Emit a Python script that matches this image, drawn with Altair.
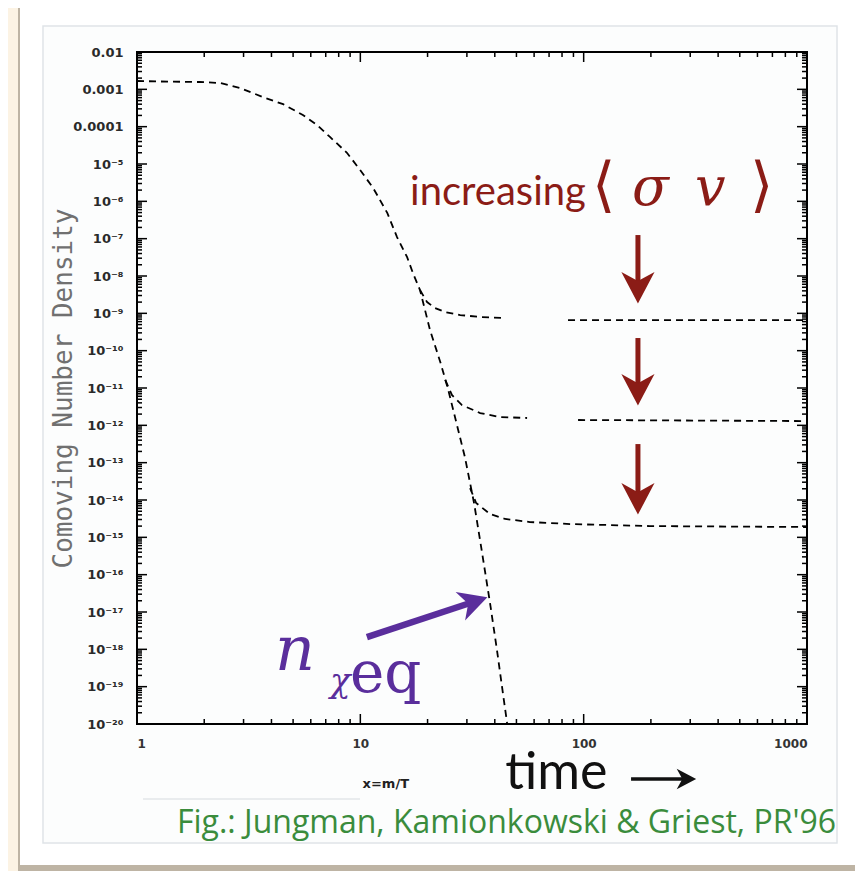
import altair as alt
import pandas as pd

# ---------------- data ----------------
# equilibrium curve  (x = m/T, comoving number density)
eq_x = [1.0, 1.27, 1.91, 2.36, 2.89, 3.66, 4.51, 5.53, 6.40, 7.31, 8.71, 9.98, 11.4, 13.2, 14.6,
        16.2, 17.2, 18.5, 19.5, 20.5, 22.8, 24.7, 26.9, 29.4, 32.3, 35.1, 38.1, 40.9, 43.6, 45.4]
eq_y = [1.67e-3, 1.62e-3, 1.57e-3, 1.48e-3, 1.09e-3, 6.2e-4, 4.0e-4, 2.05e-4, 1.11e-4, 5.3e-5,
        2.0e-5, 6.9e-6, 2.3e-6, 4.9e-7, 1.1e-7, 3.2e-8, 1.2e-8, 4.2e-9, 1.2e-9, 3.6e-10,
        5.0e-11, 9.4e-12, 1.2e-12, 1.4e-13, 8.3e-15, 3.8e-16, 1.7e-17, 9.6e-19, 6.0e-20, 1.06e-20]

# freeze-out curves (piece = visible stretch of the dashed line)
fo1_x = [18.5, 19.9, 21.6, 24.0, 28.0, 34.4, 43.6, 85.1, 1000]
fo1_y = [4.2e-9, 2.0e-9, 1.39e-9, 1.08e-9, 9.0e-10, 8.0e-10, 7.5e-10, 6.6e-10, 6.6e-10]
fo1_piece = ["a", "a", "a", "a", "a", "a", "a", "b", "b"]

fo2_x = [24.0, 25.7, 28.5, 34.4, 42.2, 55.8, 94.4, 1000]
fo2_y = [1.64e-11, 6.5e-12, 3.5e-12, 2.13e-12, 1.67e-12, 1.57e-12, 1.39e-12, 1.30e-12]
fo2_piece = ["a", "a", "a", "a", "a", "a", "b", "b"]

fo3_x = [31.0, 33.0, 38.1, 44.5, 57.5, 86.9, 198, 1000]
fo3_y = [2.09e-14, 8.3e-15, 4.2e-15, 3.1e-15, 2.57e-15, 2.27e-15, 2.0e-15, 1.89e-15]
fo3_piece = ["a"] * 8

# axis ticks
x_major = [1, 10, 100, 1000]
x_minor = [m * 10 ** k for k in range(0, 3) for m in range(2, 10)]
y_major = [10.0 ** (-k) for k in range(2, 21)]
y_minor = [m * 10.0 ** (-k) for k in range(3, 21) for m in range(2, 10)]
sup = str.maketrans("0123456789-", "⁰¹²³⁴⁵⁶⁷⁸⁹⁻")
y_labels = ["0.01", "0.001", "0.0001"] + ["10" + ("-" + str(k)).translate(sup) for k in range(5, 21)]

# annotations (data coordinates)
inc_text, inc_x, inc_y = ["increasing"], [16.7], [8.0e-7]
bracket_text = ["⟨", "⟩"]
bracket_x = [109.0, 556.0]
bracket_y = [8.0e-7, 8.0e-7]
sv_text = ["σ", "𝑣"]
sv_x = [164.7, 315.0]
sv_y = [8.0e-7, 8.0e-7]
red_arrow_x = [175, 175, 175]
red_arrow_top = [1.25e-7, 2.18e-10, 3.15e-13]
red_arrow_head = [5.1e-9, 9.4e-12, 1.13e-14]

purple_tail = [10.7, 2.13e-18]
purple_head = [32.0, 1.85e-17]
n_text, n_x, n_y = ["n"], [4.15], [2.8e-19]
chi_text, chi_x, chi_y = ["χ"], [7.32], [7.2e-20]
eqlab_text, eqlab_x, eqlab_y = ["eq"], [8.99], [7.2e-20]

xlab_text, xlab_x, xlab_y = ["x=m/T"], [13.0], [1.9e-22]
time_text, time_x, time_y = ["time"], [44.5], [1.8e-22]
time_arrow_x = [163, 287]
time_arrow_y = [3.35e-22]
cap_text, cap_x, cap_y = ["Fig.: Jungman, Kamionkowski & Griest, PR'96"], [1.51], [1.2e-23]

# ---------------- layout ----------------
W, H = 670, 672
xscale = alt.Scale(type="log", domain=[1, 1000], nice=False)
yscale = alt.Scale(type="log", domain=[1e-20, 1e-2], nice=False)
label_expr = "[" + ",".join("'%s'" % s for s in y_labels) + "][round(-log(datum.value)/LN10) - 2]"
xaxis = alt.Axis(values=x_major, format="d", ticks=False, domain=False, grid=False, title=None,
                 labelPadding=14, labelFont="DejaVu Sans", labelFontSize=12, labelFontWeight="bold",
                 labelColor="#333", zindex=2)
yaxis = alt.Axis(values=y_major, labelExpr=label_expr, ticks=False, domain=False, grid=False,
                 labelPadding=14, labelFont="DejaVu Sans", labelFontSize=13, labelFontWeight="bold",
                 labelColor="#2a2a2a", title="Comoving Number Density", titleFont="DejaVu Sans Mono",
                 titleFontSize=26, titleFontWeight="normal", titleColor="#707070", titleX=-74, titleY=H / 2,
                 titleAngle=270, titleAlign="center", titleBaseline="middle", zindex=2)


def X(f):
    return alt.X(f, type="quantitative", scale=xscale, axis=xaxis)


def Y(f):
    return alt.Y(f, type="quantitative", scale=yscale, axis=yaxis)


one = pd.DataFrame({"a": [0]})

shadow = alt.Chart(one).mark_rect(color="#a99f8f", opacity=0.75).encode(
    x=alt.value(-119), x2=alt.value(722), y=alt.value(-47), y2=alt.value(828))
card = alt.Chart(one).mark_rect(color="white").encode(
    x=alt.value(-117), x2=alt.value(719), y=alt.value(-46), y2=alt.value(813))
panel = alt.Chart(one).mark_rect(fill="#fcfdfd", stroke="#dfe4e8", strokeWidth=1.5).encode(
    x=alt.value(-94), x2=alt.value(700), y=alt.value(-26), y2=alt.value(791))
faint = alt.Chart(one).mark_rule(color="#e3e6e8", strokeWidth=1.5).encode(
    x=alt.value(6), x2=alt.value(223), y=alt.value(747))
frame = alt.Chart(one).mark_rect(fillOpacity=0, stroke="black", strokeWidth=2).encode(
    x=alt.value(0), x2=alt.value(W), y=alt.value(0), y2=alt.value(H))

rows = [{"x": a, "y": b, "s": "eq"} for a, b in zip(eq_x, eq_y)]
for name, xs, ys, ps in [("fo1", fo1_x, fo1_y, fo1_piece), ("fo2", fo2_x, fo2_y, fo2_piece),
                         ("fo3", fo3_x, fo3_y, fo3_piece)]:
    rows += [{"x": a, "y": b, "s": name + p} for a, b, p in zip(xs, ys, ps)]
lines_df = pd.DataFrame(rows)
lines = alt.Chart(lines_df).mark_line(color="black", strokeWidth=1.8, strokeDash=[7, 5], clip=True).encode(
    x=X("x"), y=Y("y"), detail="s:N", order="x:Q")

# ticks (inward on all four sides)
xt = pd.DataFrame({"v": x_major + x_minor, "len": [10] * len(x_major) + [5] * len(x_minor)})
yt = pd.DataFrame({"v": y_major + y_minor, "len": [10] * len(y_major) + [5] * len(y_minor)})
tick_layers = []
for ln in (10, 5):
    xv = xt[xt.len == ln]
    yv = yt[yt.len == ln]
    tick_layers.append(alt.Chart(xv).mark_rule(color="black", strokeWidth=1.5).encode(
        x=X("v"), y=alt.value(H), y2=alt.value(H - ln)))
    tick_layers.append(alt.Chart(xv).mark_rule(color="black", strokeWidth=1.5).encode(
        x=X("v"), y=alt.value(0), y2=alt.value(ln)))
    tick_layers.append(alt.Chart(yv).mark_rule(color="black", strokeWidth=1.5).encode(
        y=Y("v"), x=alt.value(0), x2=alt.value(ln)))
    tick_layers.append(alt.Chart(yv).mark_rule(color="black", strokeWidth=1.5).encode(
        y=Y("v"), x=alt.value(W), x2=alt.value(W - ln)))

RED = "#8b1c16"
PURPLE = "#5a2e9c"


def label(texts, xs, ys, **kw):
    return alt.Chart(pd.DataFrame({"t": texts, "x": xs, "y": ys})).mark_text(
        baseline="alphabetic", **kw).encode(x=X("x"), y=Y("y"), text="t:N")


inc = label(inc_text, inc_x, inc_y, align="left", font="Lato", fontSize=40, color=RED)
brackets = label(bracket_text, bracket_x, bracket_y, align="left", font="DejaVu Serif", fontSize=60,
                 color=RED)
sv = label(sv_text, sv_x, sv_y, align="left", font="DejaVu Serif", fontStyle="italic", fontSize=54,
           color=RED)

ra = pd.DataFrame({"x": red_arrow_x, "top": red_arrow_top, "head": red_arrow_head})
red_shaft = alt.Chart(ra).mark_rule(color=RED, strokeWidth=5).encode(x=X("x"), y=Y("top"), y2="head")
red_head = alt.Chart(ra).mark_point(shape="M0,1 L-1,-0.9 L0,-0.35 L1,-0.9 Z", filled=True, size=1100,
                                    color=RED, opacity=1).encode(x=X("x"), y=Y("head"))

pa = pd.DataFrame({"x": [purple_tail[0]], "y": [purple_tail[1]], "x2": [purple_head[0]], "y2": [purple_head[1]]})
p_shaft = alt.Chart(pa).mark_rule(color=PURPLE, strokeWidth=6.5).encode(x=X("x"), y=Y("y"), x2="x2", y2="y2")
p_head = alt.Chart(pa).mark_point(shape="M1,0 L-0.9,-1 L-0.35,0 L-0.9,1 Z", filled=True, size=900,
                                  color=PURPLE, opacity=1, angle=341.6).encode(x=X("x2"), y=Y("y2"))
n_lab = label(n_text, n_x, n_y, align="left", font="DejaVu Serif", fontStyle="italic", fontSize=62,
              color=PURPLE)
chi_lab = label(chi_text, chi_x, chi_y, align="left", font="DejaVu Serif", fontStyle="italic",
                fontSize=34, color=PURPLE)
eq_lab = label(eqlab_text, eqlab_x, eqlab_y, align="left", font="DejaVu Serif", fontSize=58,
               color=PURPLE)

xlab = label(xlab_text, xlab_x, xlab_y, align="center", font="DejaVu Sans", fontSize=13,
             fontWeight="bold", color="#222")
time_lab = label(time_text, time_x, time_y, align="left", font="Lato", fontSize=52, color="#111")
ta = pd.DataFrame({"x": [time_arrow_x[0]], "x2": [time_arrow_x[1]], "y": time_arrow_y})
t_shaft = alt.Chart(ta).mark_rule(color="#111", strokeWidth=3.5).encode(x=X("x"), x2="x2", y=Y("y"))
t_head = alt.Chart(ta).mark_point(shape="M1,0 L-0.9,-1 L-0.35,0 L-0.9,1 Z", filled=True, size=420,
                                  color="#111", opacity=1).encode(x=X("x2"), y=Y("y"))
cap = label(cap_text, cap_x, cap_y, align="left", font="Open Sans", fontSize=32, color="#3a8c3c")

chart = alt.layer(
    shadow, card, panel, faint, lines, *tick_layers, frame,
    inc, brackets, sv, red_shaft, red_head, p_shaft, p_head, n_lab, chi_lab, eq_lab,
    xlab, time_lab, t_shaft, t_head, cap
).properties(
    width=W, height=H,
    autosize=alt.AutoSizeParams(type="none"),
    padding={"left": 129, "top": 44, "right": 48, "bottom": 147},
).configure(background="#fcf3e4").configure_view(stroke=None)

chart.save("out.html", embed_options={"renderer": "svg", "actions": False})
